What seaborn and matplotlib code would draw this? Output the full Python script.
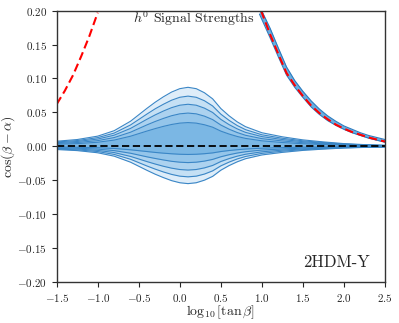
import numpy as np
import matplotlib
matplotlib.use("Agg")
import matplotlib.pyplot as plt
import seaborn as sns

# x grid (log10 tan beta) for the signal-strength contours
x_grid = [-1.5, -1.25, -1.0, -0.8, -0.6, -0.4, -0.3, -0.2, -0.1, 0.0, 0.1, 0.2, 0.3,
          0.4, 0.5, 0.6, 0.7, 0.8, 1.0, 1.25, 1.5, 1.75, 2.0, 2.25, 2.5]

# upper contour lines, outermost first
upper_1 = [0.0075, 0.010, 0.015, 0.023, 0.037, 0.056, 0.065, 0.073, 0.080, 0.085, 0.087, 0.085, 0.079,
           0.070, 0.0557, 0.045, 0.036, 0.029, 0.020, 0.014, 0.0095, 0.0065, 0.004, 0.0025, 0.0015]
upper_2 = [0.0064, 0.0085, 0.0128, 0.0195, 0.0315, 0.0476, 0.0553, 0.062, 0.068, 0.0723, 0.074, 0.0723, 0.0672,
           0.0595, 0.0474, 0.0383, 0.0306, 0.0246, 0.017, 0.0119, 0.0081, 0.0055, 0.0034, 0.0021, 0.0013]
upper_3 = [0.0053, 0.0071, 0.0107, 0.0164, 0.0264, 0.0399, 0.0463, 0.052, 0.057, 0.0606, 0.062, 0.0606, 0.0563,
           0.0499, 0.0397, 0.032, 0.0257, 0.0206, 0.0143, 0.010, 0.0068, 0.0046, 0.0029, 0.0018, 0.0011]
upper_4 = [0.0042, 0.0056, 0.0084, 0.0129, 0.0208, 0.0316, 0.0366, 0.0411, 0.0451, 0.0479, 0.049, 0.0479, 0.0445,
           0.0394, 0.0314, 0.0253, 0.0203, 0.0163, 0.0113, 0.0079, 0.0053, 0.0037, 0.0023, 0.0014, 0.0008]
upper_5 = [0.003, 0.004, 0.006, 0.0092, 0.0149, 0.0225, 0.0261, 0.0294, 0.0322, 0.0342, 0.035, 0.0342, 0.0318,
           0.0282, 0.0224, 0.0181, 0.0145, 0.0117, 0.0081, 0.0056, 0.0038, 0.0026, 0.0016, 0.001, 0.0006]

# lower contour lines, outermost first
lower_1 = [-0.0047, -0.0063, -0.0095, -0.0145, -0.0234, -0.0354, -0.0411, -0.0461, -0.0506, -0.0537, -0.055, -0.0537, -0.0499,
           -0.0443, -0.0352, -0.0284, -0.0228, -0.0183, -0.0127, -0.0089, -0.006, -0.0041, -0.0025, -0.0016, -0.0009]
lower_2 = [-0.0039, -0.0052, -0.0077, -0.0119, -0.0191, -0.029, -0.0336, -0.0378, -0.0414, -0.044, -0.045, -0.044, -0.0409,
           -0.0362, -0.0288, -0.0233, -0.0186, -0.015, -0.0104, -0.0072, -0.0049, -0.0034, -0.0021, -0.0013, -0.0008]
lower_3 = [-0.003, -0.004, -0.006, -0.0092, -0.0149, -0.0225, -0.0261, -0.0294, -0.0322, -0.0342, -0.035, -0.0342, -0.0318,
           -0.0282, -0.0224, -0.0181, -0.0145, -0.0117, -0.0081, -0.0056, -0.0038, -0.0026, -0.0016, -0.001, -0.0006]
lower_4 = [-0.0021, -0.0028, -0.0041, -0.0063, -0.0102, -0.0155, -0.0179, -0.0201, -0.0221, -0.0234, -0.024, -0.0234, -0.0218,
           -0.0193, -0.0154, -0.0124, -0.0099, -0.008, -0.0055, -0.0039, -0.0026, -0.0018, -0.0011, -0.0007, -0.0004]
lower_5 = [-0.001, -0.0014, -0.0021, -0.0032, -0.0051, -0.0077, -0.009, -0.0101, -0.011, -0.0117, -0.012, -0.0117, -0.0109,
           -0.0097, -0.0077, -0.0062, -0.005, -0.004, -0.0028, -0.0019, -0.0013, -0.0009, -0.0006, -0.0003, -0.0002]

# wrong-sign branch band (upper right)
x_band = [0.97, 1.1, 1.2, 1.3, 1.4, 1.5, 1.6, 1.7, 1.8, 1.9, 2.0, 2.1, 2.2, 2.3, 2.4, 2.5]
band_hi = [0.207, 0.174, 0.145, 0.117, 0.097, 0.081, 0.067, 0.055, 0.045, 0.037, 0.030,
           0.025, 0.020, 0.016, 0.013, 0.010]
band_lo = [0.195, 0.160, 0.132, 0.105, 0.087, 0.072, 0.058, 0.047, 0.038, 0.031, 0.025,
           0.020, 0.016, 0.012, 0.009, 0.006]

# red dashed boundaries
red_left_x = [-1.5, -1.4, -1.3, -1.2, -1.1, -1.0]
red_left_y = [0.062, 0.082, 0.105, 0.133, 0.163, 0.197]
red_right_x = [0.99, 1.1, 1.2, 1.3, 1.4, 1.5, 1.6, 1.7, 1.8, 1.9, 2.0, 2.1, 2.2, 2.3, 2.4, 2.5]
red_right_y = [0.200, 0.165, 0.136, 0.108, 0.090, 0.074, 0.060, 0.049, 0.040, 0.032, 0.026,
               0.021, 0.017, 0.013, 0.010, 0.007]

x_ticks = [-1.5, -1.0, -0.5, 0.0, 0.5, 1.0, 1.5, 2.0, 2.5]
y_ticks = [-0.20, -0.15, -0.10, -0.05, 0.00, 0.05, 0.10, 0.15, 0.20]

sns.set_style("ticks")
plt.rcParams.update({
    "font.family": "serif",
    "font.serif": ["cmr10"],
    "mathtext.fontset": "cm",
    "axes.formatter.use_mathtext": True,
    "axes.edgecolor": "#333333",
    "axes.linewidth": 1.0,
})

fig = plt.figure(figsize=(3.99, 3.23), dpi=100)
ax = fig.add_axes([0.142, 0.127, 0.823, 0.840])

uppers = [upper_1, upper_2, upper_3, upper_4, upper_5]
lowers = [lower_1, lower_2, lower_3, lower_4, lower_5]
fills = ["#deedf9", "#c5e0f4", "#acd2ef", "#94c5ea", "#7bb7e4"]
edge = "#3a86c6"

# nested bands, outermost first
for up, lo, c in zip(uppers, lowers, fills):
    ax.fill_between(x_grid, lo, up, color=c, lw=0)
for up, lo in zip(uppers, lowers):
    sns.lineplot(x=x_grid, y=up, color=edge, lw=0.8, ax=ax)
    sns.lineplot(x=x_grid, y=lo, color=edge, lw=0.8, ax=ax)

# right branch band
ax.fill_between(x_band, band_lo, band_hi, color="#6aaedf", lw=0)
sns.lineplot(x=x_band, y=band_hi, color="#2c7bbf", lw=0.8, ax=ax)
sns.lineplot(x=x_band, y=band_lo, color="#2c7bbf", lw=0.8, ax=ax)

# red dashed boundaries
sns.lineplot(x=red_left_x, y=red_left_y, color="red", lw=1.5, ls=(0, (4, 2)), ax=ax)
sns.lineplot(x=red_right_x, y=red_right_y, color="red", lw=1.5, ls=(0, (4, 2)), ax=ax)

# SM line
ax.axhline(0.0, color="black", lw=1.3, ls=(0, (4, 2)))

ax.set_xlim(-1.5, 2.5)
ax.set_ylim(-0.2, 0.2)
ax.set_xticks(x_ticks)
ax.set_yticks(y_ticks)
ax.set_xticklabels([f"${v:.1f}$" for v in x_ticks])
ax.set_yticklabels([f"${v:.2f}$" for v in y_ticks])
ax.tick_params(labelsize=8, direction="out", length=3.5, width=0.8)

ax.set_xlabel(r"$\log_{10}[\tan\beta]$", fontsize=10, labelpad=0)
ax.set_ylabel(r"$\cos(\beta-\alpha)$", fontsize=10, labelpad=0)

ax.text(0.418, 0.972, r"$h^0$ Signal Strengths", transform=ax.transAxes,
        ha="center", va="center", fontsize=10)
ax.text(0.851, 0.071, "2HDM-Y", transform=ax.transAxes,
        ha="center", va="center", fontsize=12)

fig.savefig("out.png", dpi=100)
